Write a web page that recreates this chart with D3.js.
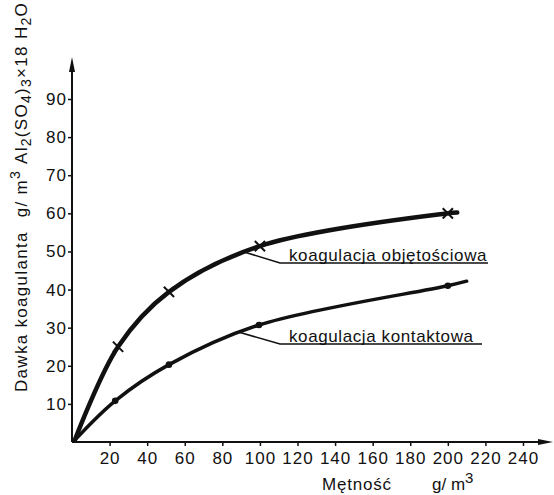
<!DOCTYPE html>
<html>
<head>
<meta charset="utf-8">
<script src="https://cdn.jsdelivr.net/npm/d3@7"></script>
<style>
  html, body { margin: 0; padding: 0; background: #fff; }
  svg { display: block; }
  text { font-family: "Liberation Sans", Arial, sans-serif; fill: #111; }
</style>
</head>
<body>
<svg id="chart" width="554" height="495"></svg>
<script>
// Turbidity (g/m3) on x, coagulant dose on y
const xTicks = [20, 40, 60, 80, 100, 120, 140, 160, 180, 200, 220, 240];
const yTicks = [10, 20, 30, 40, 50, 60, 70, 80, 90];

// Volume coagulation (× markers)
const volX = [24.5, 51.6, 100, 200];
const volY = [25, 39.4, 51.4, 60];
// Contact coagulation (● markers)
const conX = [23, 51.6, 99.5, 200];
const conY = [10.8, 20.3, 30.7, 41];

// Curve start and end points (the drawn curves run slightly past the last measurement)
const volStart = [1.5, 0.5], volEnd = [205, 60.2];
const conStart = [1.5, 0.5], conEnd = [210, 42.2];

const labelVol = "koagulacja objętościowa";
const labelCon = "koagulacja kontaktowa";

const svg = d3.select("#chart");
const x = d3.scaleLinear().domain([0, 240]).range([72, 523]);
const y = d3.scaleLinear().domain([0, 90]).range([442, 99]);

// axes with arrow heads
const ax = svg.append("g").attr("stroke", "#111").attr("fill", "#111");
ax.append("line").attr("x1", x(0)).attr("y1", y(0)).attr("x2", x(0)).attr("y2", 64)
  .attr("stroke-width", 2);
ax.append("path").attr("d", `M${x(0)},57 L${x(0) - 3},72 L${x(0) + 3},72 Z`).attr("stroke", "none");
ax.append("line").attr("x1", x(0)).attr("y1", y(0)).attr("x2", 546).attr("y2", y(0))
  .attr("stroke-width", 2);
ax.append("path").attr("d", `M553,${y(0)} L538,${y(0) - 3} L538,${y(0) + 3} Z`).attr("stroke", "none");

const yAxis = svg.append("g").attr("transform", `translate(${x(0)},0)`)
  .call(d3.axisLeft(y).tickValues(yTicks).tickSize(4).tickPadding(1).tickFormat(d3.format("d")));
yAxis.select(".domain").remove();
yAxis.selectAll("line").attr("stroke", "#111").attr("stroke-width", 1.5);
yAxis.selectAll("text").style("font-size", "17px").style("letter-spacing", "1px").attr("fill", "#111");

const xAxis = svg.append("g").attr("transform", `translate(0,${y(0)})`)
  .call(d3.axisBottom(x).tickValues(xTicks).tickSize(4).tickPadding(6).tickFormat(d3.format("d")));
xAxis.select(".domain").remove();
xAxis.selectAll("line").attr("stroke", "#111").attr("stroke-width", 1.5);
xAxis.selectAll("text").style("font-size", "17px").style("letter-spacing", "1px").attr("fill", "#111");

// curves
const line = d3.line().x(d => x(d[0])).y(d => y(d[1])).curve(d3.curveCatmullRom.alpha(0.5));
const volPts = [volStart, ...volX.map((v, i) => [v, volY[i]]), volEnd];
const conPts = [conStart, ...conX.map((v, i) => [v, conY[i]]), conEnd];

svg.append("path").datum(volPts).attr("d", line)
  .attr("fill", "none").attr("stroke", "#111").attr("stroke-width", 4.5).attr("stroke-linecap", "round");
svg.append("path").datum(conPts).attr("d", line)
  .attr("fill", "none").attr("stroke", "#111").attr("stroke-width", 3.5).attr("stroke-linecap", "round");

// markers
const cross = d3.symbol().type(d3.symbolX).size(70);
svg.append("g").selectAll("path").data(volX).join("path")
  .attr("d", cross)
  .attr("transform", (d, i) => `translate(${x(d)},${y(volY[i])})`)
  .attr("fill", "none").attr("stroke", "#111").attr("stroke-width", 2);
svg.append("g").selectAll("circle").data(conX).join("circle")
  .attr("cx", d => x(d)).attr("cy", (d, i) => y(conY[i])).attr("r", 3.3)
  .attr("fill", "#111");

// curve labels with leader lines and underline
function leader(fromX, fromY, bendX, bendY, endX, text) {
  svg.append("path")
    .attr("d", `M${fromX},${fromY} L${bendX},${bendY} L${endX},${bendY}`)
    .attr("fill", "none").attr("stroke", "#111").attr("stroke-width", 1.6);
  svg.append("text").attr("x", bendX + 9).attr("y", bendY - 2)
    .style("font-size", "17px").style("letter-spacing", "0.6px").text(text);
}
leader(x(92), y(49.8), 280, 263, 488, labelVol);
leader(x(89), y(28.8), 280, 344, 482, labelCon);

// axis titles
const yt = svg.append("text").attr("transform", "translate(27,392) rotate(-90)")
  .style("font-size", "17px").style("letter-spacing", "1.3px");
yt.append("tspan").text("Dawka koagulanta");
yt.append("tspan").attr("dx", 14).text("g/ m");
yt.append("tspan").attr("dy", -7).style("font-size", "14px").text("3");
yt.append("tspan").attr("dy", 7).attr("dx", 6).text("Al");
yt.append("tspan").attr("dy", 4).style("font-size", "14px").text("2");
yt.append("tspan").attr("dy", -4).text("(SO");
yt.append("tspan").attr("dy", 4).style("font-size", "14px").text("4");
yt.append("tspan").attr("dy", -4).text(")");
yt.append("tspan").attr("dy", 4).style("font-size", "14px").text("3");
yt.append("tspan").attr("dy", -4).text("×18 H");
yt.append("tspan").attr("dy", 4).style("font-size", "14px").text("2");
yt.append("tspan").attr("dy", -4).text("O");

svg.append("text").attr("x", 322).attr("y", 490).style("font-size", "17px")
  .style("letter-spacing", "0.8px").text("Mętność");
const xu = svg.append("text").attr("x", 432).attr("y", 490).style("font-size", "17px");
xu.append("tspan").text("g/ m");
xu.append("tspan").attr("dy", -7).style("font-size", "15px").text("3");
</script>
</body>
</html>
